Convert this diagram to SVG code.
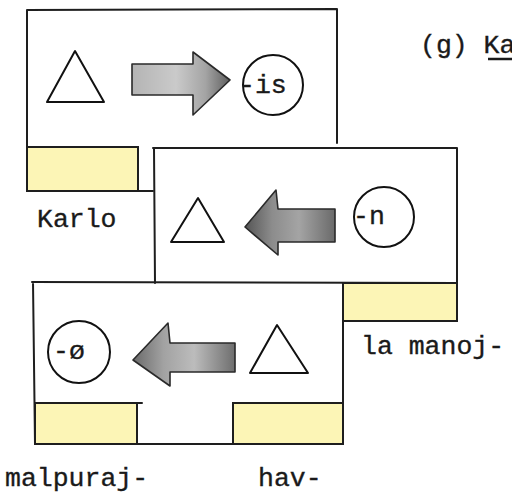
<svg xmlns="http://www.w3.org/2000/svg" width="512" height="497" viewBox="0 0 512 497">
<defs>
<linearGradient id="g1" x1="0" y1="0" x2="1" y2="0">
<stop offset="0" stop-color="#b4b4b4"/>
<stop offset="0.45" stop-color="#cacaca"/>
<stop offset="0.75" stop-color="#a4a4a4"/>
<stop offset="1" stop-color="#5e5e5e"/>
</linearGradient>
<linearGradient id="g2" x1="0" y1="0" x2="1" y2="0">
<stop offset="0" stop-color="#555"/>
<stop offset="0.3" stop-color="#8c8c8c"/>
<stop offset="0.6" stop-color="#a4a4a4"/>
<stop offset="1" stop-color="#6a6a6a"/>
</linearGradient>
<linearGradient id="g3" x1="0" y1="0" x2="1" y2="0">
<stop offset="0" stop-color="#6a6a6a"/>
<stop offset="0.3" stop-color="#a2a2a2"/>
<stop offset="0.6" stop-color="#bcbcbc"/>
<stop offset="1" stop-color="#6e6e6e"/>
</linearGradient>
</defs>
<style>
.ln{fill:none;stroke:#1e1e1e;stroke-width:2;stroke-linecap:round;stroke-linejoin:round}
.yl{fill:#fcf5b6;stroke:#1e1e1e;stroke-width:2}
.tri{fill:none;stroke:#111;stroke-width:2;stroke-linejoin:round}
.cir{fill:#fff;stroke:#111;stroke-width:2}
.t{font-family:"Liberation Mono","Courier New",monospace;font-size:26.5px;fill:#1a1a1a;stroke:#1a1a1a;stroke-width:0.35}
.arr{stroke:#2a2a2a;stroke-width:1.6;stroke-linejoin:round}
</style>
<rect width="512" height="497" fill="#fff"/>

<g id="box1">
<path class="ln" d="M27,10 L337,9 L337,143 M27,10 L27,191 L153,191"/>
<rect class="yl" x="27" y="147" width="111" height="44"/>
<polygon class="tri" points="75,51 47,102 104,102"/>
<circle class="cir" cx="273" cy="85" r="30"/>
<text class="t" x="239" y="93">-is</text>
</g>

<g id="box2">
<path class="ln" d="M153,148 L457,148 L457,321 M154,148 L155,283"/>
<rect class="yl" x="343" y="283" width="114" height="38"/>
<polygon class="tri" points="198,198 171,242 224,242"/>
<circle class="cir" cx="384" cy="217" r="30"/>
<text class="t" x="353" y="224">-n</text>
</g>

<g id="box3">
<path class="ln" d="M32,282 L457,283 M33,282 L35,444 L343,444 L343,283"/>
<rect class="yl" x="35" y="403" width="102" height="41"/>
<path class="ln" d="M137,403 L142,403"/>
<rect class="yl" x="233" y="403" width="110" height="41"/>
<circle class="cir" cx="79" cy="352" r="31"/>
<text class="t" x="53" y="359">-ø</text>
<polygon class="tri" points="277,325 250,373 308,373"/>
</g>

<g id="connectors">
<path class="arr" fill="url(#g1)" d="M132,64 L193,64 L193,52 L230,80 L193,115 L193,95 L132,95 Z"/>
<path class="arr" fill="url(#g2)" d="M245,227 L276,190 L278,209 L335,209 L335,242 L278,242 L278,255 Z"/>
<path class="arr" fill="url(#g3)" d="M133,360 L168,323 L170,343 L235,343 L235,372 L170,372 L170,386 Z"/>
</g>

<g id="labels">
<text class="t" x="420" y="53">(g) Ka</text>
<path d="M488,59 L512,59" stroke="#1a1a1a" stroke-width="2.5"/>
<text class="t" x="37" y="227">Karlo</text>
<text class="t" x="361" y="354">la manoj-</text>
<text class="t" x="5" y="486">malpuraj-</text>
<text class="t" x="258" y="486">hav-</text>
</g>
</svg>
